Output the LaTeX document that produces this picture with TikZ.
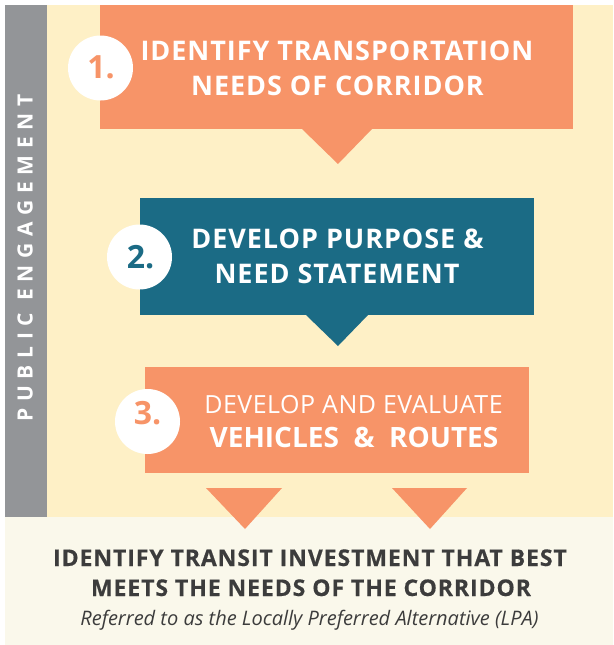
\documentclass[tikz,border=0pt]{standalone}
\usepackage{fontspec}
\setmainfont{Open Sans}
\usetikzlibrary{calc}
\definecolor{orng}{HTML}{F79468}
\definecolor{teal}{HTML}{1B6B85}
\definecolor{barg}{HTML}{939598}
\definecolor{cream}{HTML}{FEF0C6}
\definecolor{pale}{HTML}{FAF8EB}
\definecolor{dark}{HTML}{3C3C3C}
\tikzset{
  panel/.style={inner sep=0pt, outer sep=0pt, anchor=north west},
  stepbox/.style={inner sep=0pt, outer sep=0pt, fill=#1},
  numdisc/.style={circle, fill=white, minimum size=65pt, inner sep=0pt},
  numtxt/.style={inner sep=0pt, text=#1, font=\fontsize{32}{32}\selectfont\bfseries},
  headtxt/.style={inner sep=0pt, anchor=base, text=white, font=\fontsize{27}{30}\selectfont\bfseries\addfontfeatures{LetterSpace=3.5}},
  lighttxt/.style={inner sep=0pt, anchor=base, text=white, font=\fontsize{25}{30}\selectfont\addfontfeatures{LetterSpace=2}},
  bigtxt/.style={inner sep=0pt, anchor=base, text=white, font=\fontsize{28}{30}\selectfont\bfseries},
  bottxt/.style={inner sep=0pt, anchor=base, text=dark, font=\fontsize{23}{30}\selectfont\bfseries\addfontfeatures{LetterSpace=4,FakeBold=0.4}},
  ittxt/.style={inner sep=0pt, anchor=base, text=dark, font=\fontsize{20}{24}\selectfont\itshape},
}
\begin{document}
\begin{tikzpicture}[x=1pt,y=-1pt]
\useasboundingbox (0,0) rectangle (613,645);
% backgrounds
\node[panel, fill=cream, minimum width=566pt, minimum height=512pt] (bg) at (47,5) {};
\node[panel, fill=barg, minimum width=42pt, minimum height=512pt] (bar) at (5,5) {};
\node[panel, fill=pale, minimum width=608pt, minimum height=128pt] (foot) at (5,517) {};
\node[inner sep=0pt, rotate=90, text=white, font=\fontsize{21}{21}\selectfont\bfseries\addfontfeatures{LetterSpace=32}] (pe) at (25,258) {PUBLIC ENGAGEMENT};
% step 1
\node[stepbox=orng, minimum width=473pt, minimum height=124pt] (b1) at (336.5,67) {};
\fill[orng] ($(b1.south)+(-34.5,0)$) -- ($(b1.south)+(35.5,0)$) -- ($(b1.south)+(1.5,35)$) -- cycle;
\node[numdisc] (c1) at (100.5,68) {};
\node[numtxt=orng] (n1) at (101,67) {1.};
\node[headtxt] (t1a) at (337,60.5) {IDENTIFY TRANSPORTATION};
\node[headtxt] (t1b) at (337.5,95.5) {NEEDS OF CORRIDOR};
% step 2
\node[stepbox=teal, minimum width=394pt, minimum height=117pt] (b2) at (337,256.5) {};
\fill[teal] ($(b2.south)+(-31,0)$) -- ($(b2.south)+(31,0)$) -- ($(b2.south)+(1,31)$) -- cycle;
\node[numdisc] (c2) at (139.5,257) {};
\node[numtxt=teal] (n2) at (140.5,257.5) {2.};
\node[headtxt] (t2a) at (337.5,248.5) {DEVELOP PURPOSE \&};
\node[headtxt] (t2b) at (337,283.5) {NEED STATEMENT};
% step 3
\node[stepbox=orng, minimum width=384pt, minimum height=106pt] (b3) at (337,420) {};
\node[numdisc] (c3) at (147.5,421.5) {};
\node[numtxt=orng] (n3) at (147.5,413) {3.};
\node[lighttxt] (t3a) at (353.5,413) {DEVELOP AND EVALUATE};
\node[bigtxt] (t3b) at (354,447) {VEHICLES \ \& \ ROUTES};
% final arrows
\coordinate (a1) at (244,488);
\coordinate (a2) at (429.5,488);
\fill[orng] ($(a1)+(-38,0)$) -- ($(a1)+(38,0)$) -- ($(a1)+(1,41)$) -- cycle;
\fill[orng] ($(a2)+(-37.5,0)$) -- ($(a2)+(37.5,0)$) -- ($(a2)+(0.5,41)$) -- cycle;
% result
\node[bottxt] (r1) at (310,566) {IDENTIFY TRANSIT INVESTMENT THAT BEST};
\node[bottxt] (r2) at (311,596) {MEETS THE NEEDS OF THE CORRIDOR};
\node[ittxt] (r3) at (309.5,625) {Referred to as the Locally Preferred Alternative (LPA)};
\end{tikzpicture}
\end{document}
